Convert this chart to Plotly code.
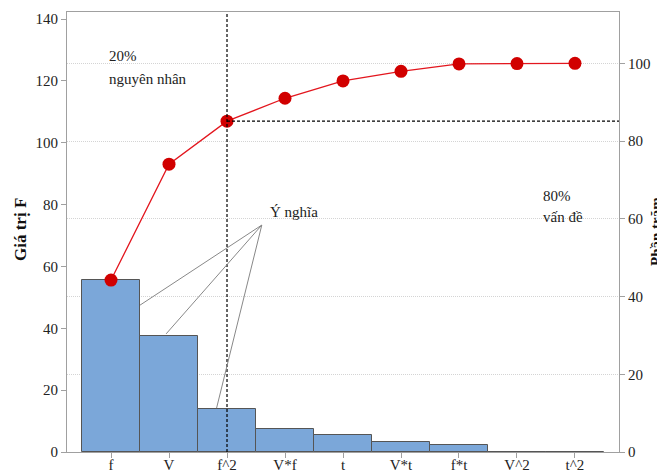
import numpy as np
import plotly.graph_objects as go

categories = ["f", "V", "f^2", "V*f", "t", "V*t", "f*t", "V^2", "t^2"]
values = [55.6, 37.5, 13.9, 7.4, 5.6, 3.1, 2.4, 0.12, 0.08]
left_ticks = [0, 20, 40, 60, 80, 100, 120, 140]
right_ticks = [0, 20, 40, 60, 80, 100]

total = sum(values)
cum_pct = list(np.cumsum(values) / total * 100)

FONT = "Liberation Serif"
OFF = 8  # page body margin offset
W, H = 665 - OFF, 473 - OFF
# plot area in window pixels: x 67..619, y 12..452
PX0, PX1, PY0, PY1 = 67, 619, 12, 452
L, R, T, B = PX0 - OFF, (W + OFF) - PX1, PY0 - OFF, (H + OFF) - PY1
left_max = 142.3
right_max = left_max * 100 / total
x_range = [-0.759, 8.759]

fig = go.Figure()
fig.add_trace(go.Bar(
    x=list(range(len(categories))), y=values,
    marker=dict(color="#7BA7D9", line=dict(color="#555555", width=1)),
    width=1.0, yaxis="y", showlegend=False,
))
fig.add_trace(go.Scatter(
    x=list(range(len(categories))), y=cum_pct, yaxis="y2",
    mode="lines+markers",
    line=dict(color="#E3161E", width=1.3),
    marker=dict(color="#D10000", size=13),
    showlegend=False,
))

# dashed reference lines at third category
k = 2
fig.add_shape(type="line", xref="x", yref="paper", x0=k, x1=k, y0=0, y1=1,
              line=dict(color="black", width=1.2, dash="3px,2px"))
fig.add_shape(type="line", xref="x", yref="y2", x0=k, x1=x_range[1], y0=cum_pct[k], y1=cum_pct[k],
              line=dict(color="black", width=1.2, dash="3px,2px"))

# leader lines for "Ý nghĩa"
hub = (2.6, 73.4)
ends = [(0.5, 47.5), (0.95, 38.2), (1.82, 14.2)]
for ex, ey in ends:
    fig.add_shape(type="line", xref="x", yref="y", x0=hub[0], y0=hub[1], x1=ex, y1=ey,
                  line=dict(color="#888888", width=1))

def px(xp):
    return (xp - PX0) / (PX1 - PX0)

def py(yp):
    return 1 - (yp - PY0) / (PY1 - PY0)

txt = dict(family=FONT, size=15, color="#222222")
anns = [
    ("20%", 107, 56), ("nguyên nhân", 107, 79),
    ("Ý nghĩa", 268, 212),
    ("80%", 541, 196), ("vấn đề", 541, 217),
]
for t, xx, yy in anns:
    fig.add_annotation(text=t, xref="paper", yref="paper", x=px(xx), y=py(yy),
                       xanchor="left", yanchor="middle", showarrow=False, font=txt)

fig.add_annotation(text="<b>Giá trị F</b>", xref="paper", yref="paper", x=px(20), y=py(230),
                   xanchor="center", yanchor="middle", textangle=-90, showarrow=False,
                   font=dict(family=FONT, size=17, color="#111111"))
fig.add_annotation(text="<b>Phần trăm</b>", xref="paper", yref="paper", x=px(656), y=py(232),
                   xanchor="center", yanchor="middle", textangle=-90, showarrow=False,
                   font=dict(family=FONT, size=15, color="#111111"))

axis_common = dict(
    showline=True, linecolor="#A0A0A0", linewidth=1, zeroline=False,
    ticks="outside", ticklen=5, tickcolor="#A0A0A0", automargin=False,
    tickfont=dict(family=FONT, size=15, color="#222222"),
)

fig.update_layout(
    width=W, height=H,
    margin=dict(l=L, r=R, t=T, b=B, pad=0, autoexpand=False),
    plot_bgcolor="white", paper_bgcolor="white",
    bargap=0,
    font=dict(family=FONT, size=15, color="#222222"),
    xaxis=dict(
        range=x_range, tickmode="array", tickvals=list(range(len(categories))),
        ticktext=categories, showgrid=False, mirror=True, ticklabelstandoff=-6,
        **axis_common,
    ),
    yaxis=dict(
        range=[0, left_max], tickvals=left_ticks, showgrid=False, **axis_common,
    ),
    yaxis2=dict(
        range=[0, right_max], tickvals=right_ticks, overlaying="y", side="right",
        showgrid=True, gridcolor="#D4D4D4", griddash="1px,1px", gridwidth=1,
        **axis_common,
    ),
)

fig.write_html("out.html")
